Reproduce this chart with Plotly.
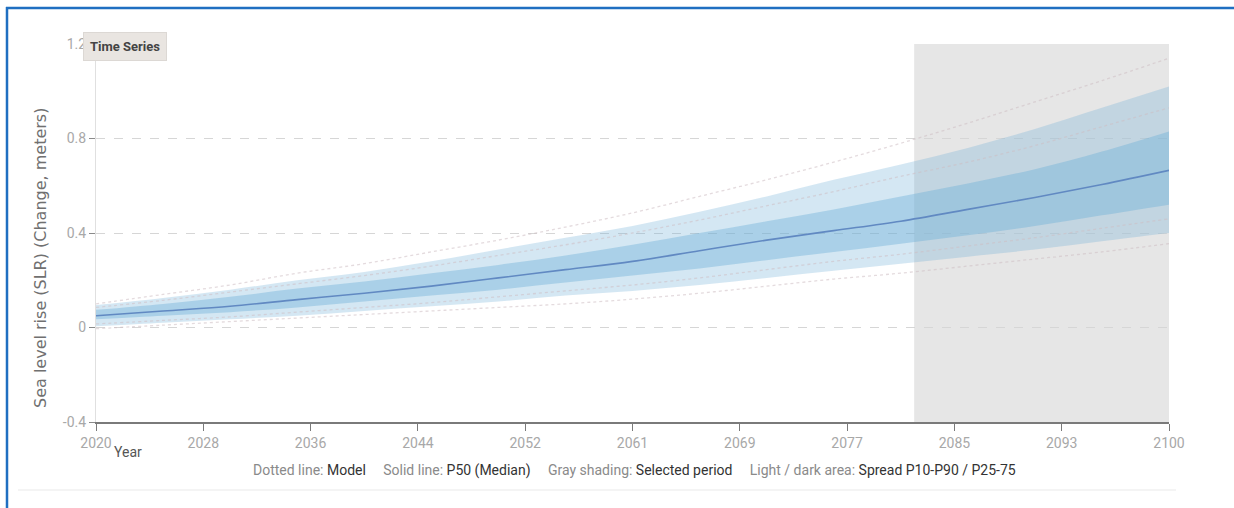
import plotly.graph_objects as go

years = [2020, 2025, 2030, 2035, 2040, 2045, 2050, 2055, 2060, 2065, 2070, 2075, 2080, 2085, 2090, 2095, 2100]
p50 = [0.05, 0.07, 0.09, 0.118, 0.145, 0.175, 0.21, 0.245, 0.28, 0.325, 0.37, 0.41, 0.45, 0.50, 0.55, 0.605, 0.665]
p90 = [0.095, 0.125, 0.16, 0.20, 0.235, 0.28, 0.33, 0.38, 0.43, 0.49, 0.555, 0.625, 0.69, 0.76, 0.84, 0.93, 1.02]
p75 = [0.075, 0.10, 0.13, 0.165, 0.195, 0.23, 0.265, 0.305, 0.35, 0.40, 0.45, 0.50, 0.555, 0.61, 0.67, 0.745, 0.83]
p25 = [0.035, 0.05, 0.065, 0.085, 0.11, 0.135, 0.16, 0.19, 0.22, 0.25, 0.285, 0.32, 0.355, 0.39, 0.43, 0.475, 0.52]
p10 = [0.005, 0.02, 0.035, 0.05, 0.07, 0.09, 0.11, 0.135, 0.155, 0.18, 0.21, 0.24, 0.27, 0.30, 0.33, 0.365, 0.40]
model_high = [0.10, 0.14, 0.18, 0.23, 0.27, 0.32, 0.37, 0.425, 0.485, 0.555, 0.625, 0.70, 0.78, 0.865, 0.955, 1.045, 1.14]
model_low = [-0.005, 0.01, 0.025, 0.04, 0.055, 0.07, 0.085, 0.10, 0.12, 0.145, 0.175, 0.205, 0.23, 0.26, 0.29, 0.32, 0.355]
model_mid_high = [0.085, 0.115, 0.15, 0.185, 0.22, 0.26, 0.305, 0.35, 0.40, 0.455, 0.515, 0.575, 0.64, 0.70, 0.77, 0.85, 0.93]
model_mid_low = [0.015, 0.03, 0.045, 0.065, 0.085, 0.105, 0.13, 0.155, 0.18, 0.21, 0.245, 0.28, 0.31, 0.345, 0.38, 0.42, 0.46]

tick_years = [2020, 2028, 2036, 2044, 2052, 2060, 2068, 2076, 2084, 2092, 2100]
tick_labels = ["2020", "2028", "2036", "2044", "2052", "2061", "2069", "2077", "2085", "2093", "2100"]
y_ticks = [-0.4, 0, 0.4, 0.8, 1.2]
y_tick_labels = ["-0.4", "0", "0.4", "0.8", "1.2"]
selected_period = [2081, 2100]

W, H = 1234, 508
ML, MR, MT, MB = 96, 65, 44, 86
PW, PH = W - ML - MR, H - MT - MB


def px(xp):
    return (xp - ML) / PW


def py(yp):
    return (H - MB - yp) / PH


TICKFONT = "Liberation Sans Narrow, Roboto, sans-serif"

fig = go.Figure()
fig.add_trace(go.Scatter(x=years, y=p10, mode="lines", line=dict(width=0, shape="spline"), showlegend=False, hoverinfo="skip"))
fig.add_trace(go.Scatter(x=years, y=p90, mode="lines", line=dict(width=0, shape="spline"), fill="tonexty",
                         fillcolor="rgba(107,174,214,0.29)", showlegend=False, hoverinfo="skip"))
fig.add_trace(go.Scatter(x=years, y=p25, mode="lines", line=dict(width=0, shape="spline"), showlegend=False, hoverinfo="skip"))
fig.add_trace(go.Scatter(x=years, y=p75, mode="lines", line=dict(width=0, shape="spline"), fill="tonexty",
                         fillcolor="rgba(107,174,214,0.40)", showlegend=False, hoverinfo="skip"))
for m in [model_high, model_low, model_mid_high, model_mid_low]:
    fig.add_trace(go.Scatter(x=years, y=m, mode="lines",
                             line=dict(color="rgba(205,190,195,0.55)", width=1.3, dash="dot", shape="spline"),
                             showlegend=False, hoverinfo="skip"))
fig.add_trace(go.Scatter(x=years, y=p50, mode="lines", line=dict(color="#6189c2", width=1.6, shape="spline"),
                         showlegend=False))

fig.add_shape(type="rect", xref="x", yref="paper", x0=selected_period[0], x1=selected_period[1], y0=0, y1=1,
              fillcolor="#e6e6e6", line=dict(width=0), layer="below")

# frame lines (blue) and bottom separator
fig.add_shape(type="line", xref="paper", yref="paper", x0=px(7), x1=px(7), y0=py(7), y1=py(510),
              line=dict(color="#1f6fc1", width=2.5))
fig.add_shape(type="line", xref="paper", yref="paper", x0=px(6), x1=px(1236), y0=py(8), y1=py(8),
              line=dict(color="#1f6fc1", width=2.5))
fig.add_shape(type="line", xref="paper", yref="paper", x0=px(18), x1=px(1176), y0=py(490), y1=py(490),
              line=dict(color="#f0f0f0", width=1.5))

fig.update_layout(
    width=W, height=H,
    margin=dict(l=ML, r=MR, t=MT, b=MB),
    paper_bgcolor="white", plot_bgcolor="rgba(0,0,0,0)",
    showlegend=False,
    xaxis=dict(range=[2020, 2100], tickvals=tick_years, ticktext=tick_labels,
               showgrid=False, zeroline=False, showline=True, linecolor="#7a7a7a", linewidth=1.5,
               ticks="outside", ticklen=7, tickcolor="#7a7a7a", tickwidth=1.2,
               tickfont=dict(family=TICKFONT, size=14, color="#a8a8a8")),
    yaxis=dict(range=[-0.4, 1.2], tickvals=y_ticks, ticktext=y_tick_labels,
               showgrid=True, gridcolor="#d6d6d6", griddash="dash", gridwidth=1,
               zeroline=False, showline=True, linecolor="#e0e0e0", linewidth=1.2,
               ticks="outside", ticklen=6, tickcolor="#8a8a8a",
               tickfont=dict(family=TICKFONT, size=14, color="#a8a8a8")),
)

fig.add_annotation(xref="paper", yref="paper", x=px(40), y=py(258), xanchor="center", yanchor="middle",
                   text="Sea level rise (SLR) (Change, meters)",
                   textangle=-90, showarrow=False, font=dict(family="DejaVu Sans, sans-serif", size=16, color="#707070"))
fig.add_annotation(xref="paper", yref="paper", x=px(112), y=py(452), xanchor="left", yanchor="middle", text="Year",
                   showarrow=False, font=dict(family=TICKFONT, size=14, color="#555555"))
fig.add_annotation(xref="paper", yref="paper", x=px(125), y=py(47), xanchor="center", yanchor="middle",
                   text="<b>Time Series</b>",
                   showarrow=False, bgcolor="#e9e5e1", bordercolor="#dcd8d4", borderwidth=1, borderpad=6,
                   font=dict(family=TICKFONT, size=13, color="#444444"))

lab = "#8a8a8a"
val = "#333333"
legend_text = (
    f"<span style='color:{lab}'>Dotted line: </span><span style='color:{val}'>Model</span>"
    f"<span style='color:{lab}'>     Solid line: </span><span style='color:{val}'>P50 (Median)</span>"
    f"<span style='color:{lab}'>     Gray shading: </span><span style='color:{val}'>Selected period</span>"
    f"<span style='color:{lab}'>     Light / dark area: </span><span style='color:{val}'>Spread P10-P90 / P25-75</span>"
)
fig.add_annotation(xref="paper", yref="paper", x=px(634), y=py(470), xanchor="center", yanchor="middle",
                   text=legend_text, showarrow=False, font=dict(family=TICKFONT, size=14, color=lab))

fig.write_html("out.html", config={"displayModeBar": False},
               post_script="document.body.style.margin='0';")
